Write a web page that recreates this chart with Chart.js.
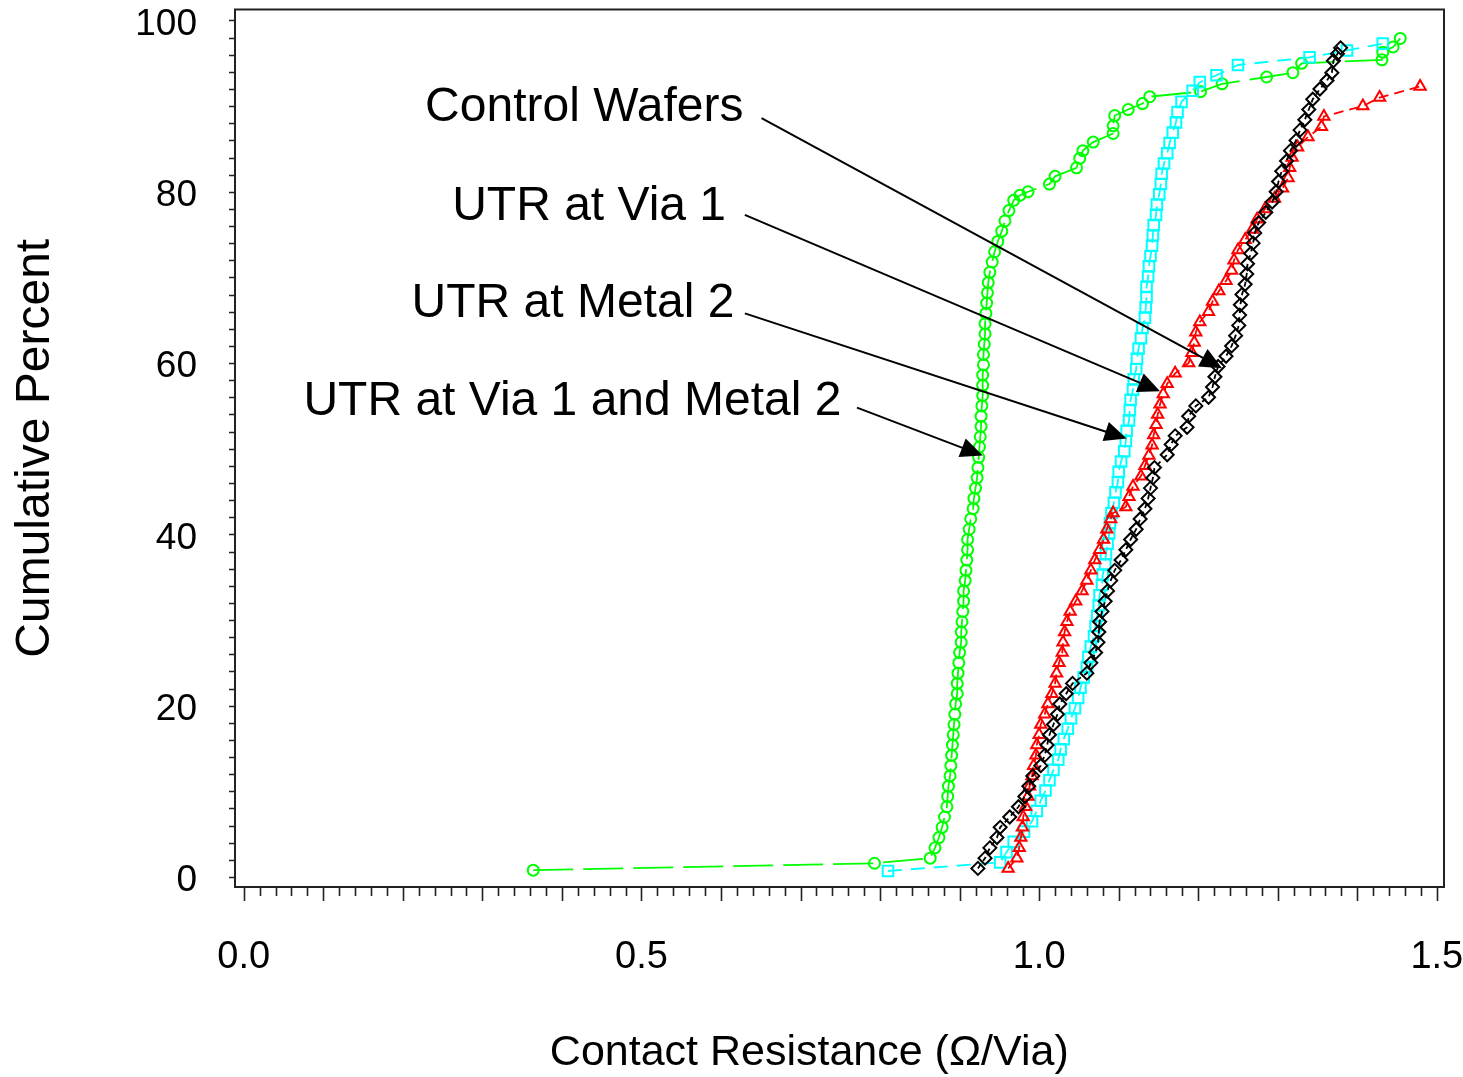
<!DOCTYPE html>
<html>
<head>
<meta charset="utf-8">
<title>Contact Resistance CDF</title>
<script src="https://cdn.jsdelivr.net/npm/chart.js@4.4.1/dist/chart.umd.min.js"></script>
<style>
  html, body { margin: 0; padding: 0; background: #fff; }
  #wrap { width: 1463px; height: 1077px; }
</style>
</head>
<body>
<div id="wrap"><canvas id="cdf" width="1463" height="1077"></canvas></div>
<script>
// Axis ticks
var xTickValues = [0, 0.5, 1.0, 1.5];
var xTickLabels = ['0.0', '0.5', '1.0', '1.5'];
var yTickValues = [0, 20, 40, 60, 80, 100];
var yTickLabels = ['0', '20', '40', '60', '80', '100'];

var xTitle = 'Contact Resistance (Ω/Via)';
var yTitle = 'Cumulative Percent';
var seriesNames = ['Control Wafers', 'UTR at Via 1', 'UTR at Metal 2', 'UTR at Via 1 and Metal 2'];

// Control Wafers (black diamonds): resistance (ohm/via) and cumulative percent
var controlR = [0.923, 0.932, 0.938, 0.947, 0.951, 0.963, 0.974, 0.982, 0.987, 0.992,
  1.002, 1.007, 1.010, 1.013, 1.018, 1.023, 1.026, 1.034, 1.042, 1.060,
  1.065, 1.071, 1.074, 1.075, 1.076, 1.079, 1.083, 1.086, 1.090, 1.095,
  1.103, 1.109, 1.115, 1.122, 1.127, 1.133, 1.137, 1.140, 1.143, 1.145,
  1.161, 1.166, 1.171, 1.186, 1.188, 1.197, 1.213,
  1.218, 1.221, 1.225, 1.235, 1.242, 1.247, 1.251, 1.252, 1.253, 1.255,
  1.259, 1.261, 1.262, 1.266, 1.269, 1.271, 1.276, 1.285, 1.293, 1.298,
  1.301, 1.305, 1.311, 1.316, 1.323, 1.328, 1.334, 1.339, 1.344, 1.353,
  1.362, 1.368, 1.370, 1.375, 1.379];
var controlP = [1.0, 2.2, 3.4, 4.6, 5.8, 7.0, 8.2, 9.4, 10.6, 11.8,
  13.0, 14.2, 15.4, 16.6, 17.8, 19.0, 20.2, 21.4, 22.6, 23.8,
  25.0, 26.2, 27.4, 28.6, 29.8, 31.0, 32.2, 33.4, 34.6, 35.8,
  37.0, 38.2, 39.4, 40.6, 41.8, 43.0, 44.2, 45.4, 46.6, 47.8,
  49.3, 50.5, 51.5, 52.5, 53.8, 55.0, 56.0,
  57.2, 58.4, 59.6, 60.8, 62.0, 63.2, 64.4, 65.6, 66.8, 68.0,
  69.2, 70.4, 71.6, 72.8, 74.0, 75.2, 76.4, 77.6, 78.8, 80.0,
  81.2, 82.4, 83.6, 84.8, 86.0, 87.2, 88.4, 89.6, 90.8, 92.0,
  93.0, 93.9, 95.3, 96.1, 96.8];

// UTR at Via 1 (red triangles)
var via1R = [0.961, 0.972, 0.975, 0.977, 0.979, 0.980, 0.983, 0.986, 0.988, 0.991,
  0.993, 0.996, 0.997, 1.000, 1.002, 1.007, 1.011, 1.016, 1.020, 1.022,
  1.025, 1.029, 1.030, 1.032, 1.035, 1.039, 1.046, 1.054, 1.060, 1.065,
  1.070, 1.076, 1.081, 1.085, 1.090, 1.093, 1.109,
  1.113, 1.118, 1.128, 1.133, 1.138, 1.142, 1.144, 1.147, 1.149, 1.152,
  1.156, 1.161, 1.171, 1.188, 1.192, 1.195, 1.197, 1.202, 1.213, 1.218,
  1.226, 1.235, 1.242, 1.245, 1.250, 1.259, 1.268, 1.274, 1.284, 1.296,
  1.306, 1.313, 1.315, 1.318, 1.325, 1.338, 1.355, 1.358, 1.407, 1.428, 1.479];
var via1P = [1.0, 2.2, 3.4, 4.6, 5.8, 7.0, 8.2, 9.4, 10.6, 11.8,
  13.0, 14.2, 15.4, 16.6, 17.8, 19.0, 20.2, 21.4, 22.6, 23.8,
  25.0, 26.2, 27.4, 28.6, 29.8, 31.0, 32.2, 33.4, 34.6, 35.8,
  37.0, 38.2, 39.4, 40.6, 41.8, 42.5, 43.2,
  44.4, 45.6, 46.8, 48.0, 49.2, 50.4, 51.6, 52.8, 54.0, 55.2,
  56.4, 57.6, 58.8, 60.0, 61.2, 62.4, 63.6, 64.8, 66.0, 67.2,
  68.4, 69.6, 70.8, 72.0, 73.2, 74.4, 75.6, 76.8, 78.0, 79.2,
  80.4, 81.6, 82.8, 84.0, 85.2, 86.4, 87.6, 88.8, 90.0, 91.0, 92.3];

// UTR at Metal 2 (cyan squares)
var metal2R = [0.810, 0.951, 0.959, 0.968, 0.981, 0.991, 0.997, 1.002, 1.008, 1.013, 1.018,
  1.024, 1.027, 1.031, 1.036, 1.040, 1.045, 1.049, 1.052, 1.056, 1.060,
  1.062, 1.065, 1.069, 1.071, 1.073, 1.075, 1.076, 1.079, 1.080, 1.083,
  1.084, 1.086, 1.088, 1.089, 1.091, 1.094, 1.096, 1.099, 1.100, 1.103,
  1.107, 1.109, 1.110, 1.113, 1.114, 1.115, 1.118, 1.119, 1.122, 1.123,
  1.125, 1.128, 1.130, 1.133, 1.134, 1.135, 1.135, 1.137, 1.138, 1.140,
  1.142, 1.143, 1.144, 1.147, 1.148, 1.151, 1.153, 1.154, 1.157, 1.161,
  1.164, 1.168, 1.172, 1.174, 1.179,
  1.193, 1.202, 1.223, 1.250, 1.340, 1.387, 1.432];
var metal2P = [0.7, 1.7, 2.9, 4.1, 5.3, 6.5, 7.7, 8.9, 10.1, 11.3, 12.5,
  13.7, 14.9, 16.1, 17.3, 18.5, 19.7, 20.9, 22.1, 23.3, 24.5,
  25.7, 26.9, 28.1, 29.3, 30.5, 31.7, 32.9, 34.1, 35.3, 36.5,
  37.7, 38.9, 40.1, 41.3, 42.5, 43.7, 44.9, 46.1, 47.3, 48.5,
  49.7, 50.9, 52.1, 53.3, 54.5, 55.7, 56.9, 58.1, 59.3, 60.5,
  61.7, 62.9, 64.1, 65.3, 66.5, 67.7, 68.9, 70.1, 71.3, 72.5,
  73.7, 74.9, 76.1, 77.3, 78.5, 79.7, 80.9, 82.1, 83.3, 84.5,
  85.7, 86.9, 88.1, 89.3, 90.5,
  91.8, 92.8, 93.6, 94.8, 95.7, 96.5, 97.3];

// UTR at Via 1 and Metal 2 (green circles)
var bothR = [0.364, 0.793,
  0.863, 0.869, 0.874, 0.878, 0.881, 0.884, 0.885, 0.886, 0.888, 0.889,
  0.890, 0.891, 0.892, 0.893, 0.894, 0.895, 0.897, 0.897, 0.898, 0.899,
  0.900, 0.902, 0.902, 0.903, 0.904, 0.905, 0.905, 0.907, 0.908, 0.909,
  0.910, 0.910, 0.912, 0.914, 0.917, 0.918, 0.920, 0.922, 0.923, 0.924,
  0.925, 0.926, 0.927, 0.927, 0.928, 0.929, 0.929, 0.929, 0.930, 0.930,
  0.931, 0.932, 0.932, 0.933, 0.934, 0.935, 0.936, 0.938, 0.941, 0.944,
  0.948, 0.953, 0.957, 0.962, 0.968,
  0.976, 0.986, 1.013, 1.020, 1.047, 1.051, 1.055, 1.068, 1.093, 1.093,
  1.095, 1.112, 1.130, 1.139, 1.203, 1.230, 1.286, 1.319, 1.330, 1.431,
  1.432, 1.445, 1.454];
var bothP = [0.8, 1.6,
  2.2, 3.4, 4.6, 5.8, 7.0, 8.2, 9.4, 10.6, 11.8, 13.0,
  14.2, 15.4, 16.6, 17.8, 19.0, 20.2, 21.4, 22.6, 23.8, 25.0,
  26.2, 27.4, 28.6, 29.8, 31.0, 32.2, 33.4, 34.6, 35.8, 37.0,
  38.2, 39.4, 40.6, 41.8, 43.0, 44.2, 45.4, 46.6, 47.8, 49.0,
  50.2, 51.4, 52.6, 53.8, 55.0, 56.2, 57.4, 58.6, 59.8, 61.0,
  62.2, 63.4, 64.6, 65.8, 67.0, 68.2, 69.4, 70.6, 71.8, 73.0,
  74.2, 75.4, 76.6, 77.8, 79.0,
  79.6, 80.0, 80.9, 81.8, 82.8, 83.9, 84.8, 85.8, 86.8, 87.7,
  88.9, 89.6, 90.3, 91.1, 91.7, 92.6, 93.4, 93.9, 95.0, 95.4,
  96.3, 96.9, 97.9];

// Callout text / arrow placement, in axis units (resistance, percent)
var callouts = [
  { text: seriesNames[0], tx: 0.228, ty: 89.8, sx: 0.651, sy: 88.6, ex: 1.230, ey: 59.4 },
  { text: seriesNames[1], tx: 0.262, ty: 78.2, sx: 0.630, sy: 77.3, ex: 1.152, ey: 56.7 },
  { text: seriesNames[2], tx: 0.211, ty: 66.9, sx: 0.630, sy: 65.8, ex: 1.110, ey: 51.2 },
  { text: seriesNames[3], tx: 0.075, ty: 55.5, sx: 0.771, sy: 54.8, ex: 0.929, ey: 49.2 }
];

var FONT = "'Liberation Sans', Arial, Helvetica, sans-serif";
Chart.defaults.font.family = FONT;
Chart.defaults.color = '#000';

function pairs(xs, ys) {
  return xs.map(function (v, i) { return { x: v, y: ys[i] }; });
}

function series(label, xs, ys, color, style, radius, dash) {
  return {
    label: label,
    data: pairs(xs, ys),
    showLine: true,
    borderColor: color,
    borderWidth: 1.8,
    borderDash: dash,
    backgroundColor: 'rgba(0,0,0,0)',
    pointStyle: style,
    pointRadius: radius,
    pointBorderColor: color,
    pointBackgroundColor: 'rgba(0,0,0,0)',
    pointBorderWidth: 2,
    tension: 0
  };
}

// frame, minor tick marks and the x caption
var frameTicks = {
  id: 'frameTicks',
  afterDraw: function (chart) {
    var ctx = chart.ctx, a = chart.chartArea;
    var xs = chart.scales.x, ys = chart.scales.y;
    ctx.save();
    ctx.strokeStyle = '#222';
    ctx.lineWidth = 2;
    ctx.strokeRect(a.left, a.top, a.right - a.left, a.bottom - a.top);
    ctx.lineWidth = 1.6;
    ctx.beginPath();
    for (var i = 0; i <= 75; i++) {
      var px = Math.round(xs.getPixelForValue(i * 0.02)) + 0.5;
      var len = (i % 5 === 0) ? 14 : 9;
      ctx.moveTo(px, a.bottom);
      ctx.lineTo(px, a.bottom + len);
    }
    for (var j = 0; j <= 50; j++) {
      var py = Math.round(ys.getPixelForValue(j * 2)) + 0.5;
      ctx.moveTo(a.left - 6, py);
      ctx.lineTo(a.left, py);
    }
    ctx.stroke();

    // x axis caption sits a little left of the plot centre in the original
    ctx.fillStyle = '#000';
    ctx.font = '43px ' + FONT;
    ctx.textAlign = 'center';
    ctx.textBaseline = 'middle';
    ctx.fillText(xTitle, a.left + (a.right - a.left) * 0.475, chart.height - 24);
    ctx.restore();
  }
};

// callout labels with arrows
var calloutPlugin = {
  id: 'callouts',
  afterDatasetsDraw: function (chart) {
    var ctx = chart.ctx;
    var xs = chart.scales.x, ys = chart.scales.y;
    ctx.save();
    ctx.fillStyle = '#000';
    ctx.strokeStyle = '#000';
    ctx.lineWidth = 2;
    ctx.font = '48px ' + FONT;
    ctx.textAlign = 'left';
    ctx.textBaseline = 'middle';
    callouts.forEach(function (c) {
      ctx.fillText(c.text, xs.getPixelForValue(c.tx), ys.getPixelForValue(c.ty));
      var x1 = xs.getPixelForValue(c.sx), y1 = ys.getPixelForValue(c.sy);
      var x2 = xs.getPixelForValue(c.ex), y2 = ys.getPixelForValue(c.ey);
      var ang = Math.atan2(y2 - y1, x2 - x1);
      var cs = Math.cos(ang), sn = Math.sin(ang);
      ctx.beginPath();
      ctx.moveTo(x1, y1);
      ctx.lineTo(x2 - 16 * cs, y2 - 16 * sn);
      ctx.stroke();
      ctx.beginPath();
      ctx.moveTo(x2, y2);
      ctx.lineTo(x2 - 22 * cs + 10 * sn, y2 - 22 * sn - 10 * cs);
      ctx.lineTo(x2 - 22 * cs - 10 * sn, y2 - 22 * sn + 10 * cs);
      ctx.closePath();
      ctx.fill();
    });
    ctx.restore();
  }
};

var ctx = document.getElementById('cdf').getContext('2d');
var cdfChart = new Chart(ctx, {
  type: 'scatter',
  data: {
    datasets: [
      series(seriesNames[0], controlR, controlP, '#000000', 'rectRot', 6.5, [5, 4]),
      series(seriesNames[1], via1R, via1P, '#ff0000', 'triangle', 6.5, [10, 6]),
      series(seriesNames[2], metal2R, metal2P, '#00ffff', 'rect', 7.5, [14, 9]),
      series(seriesNames[3], bothR, bothP, '#00ff00', 'circle', 5.5, [40, 10])
    ]
  },
  options: {
    responsive: false,
    animation: false,
    layout: { padding: { top: 9, right: 19, left: 0, bottom: 0 } },
    plugins: {
      legend: { display: false },
      tooltip: { enabled: false }
    },
    scales: {
      x: {
        type: 'linear',
        min: -0.011,
        max: 1.509,
        afterBuildTicks: function (s) {
          s.ticks = xTickValues.map(function (v) { return { value: v }; });
        },
        afterFit: function (s) {
          s.height = 190;
          s.paddingLeft = 0;
          s.paddingRight = 0;
        },
        grid: { display: false, drawTicks: false },
        border: { display: false },
        ticks: {
          autoSkip: false,
          maxRotation: 0,
          padding: 48,
          color: '#000',
          font: { size: 38 },
          callback: function (v, i) { return xTickLabels[i]; }
        },
        title: { display: false }
      },
      y: {
        type: 'linear',
        min: -1.17,
        max: 101.28,
        afterBuildTicks: function (s) {
          s.ticks = yTickValues.map(function (v) { return { value: v }; });
        },
        afterFit: function (s) {
          s.width = 235;
          s.paddingTop = 0;
          s.paddingBottom = 0;
        },
        grid: { display: false, drawTicks: false },
        border: { display: false },
        ticks: {
          autoSkip: false,
          padding: 38,
          labelOffset: 4,
          color: '#000',
          font: { size: 37 },
          callback: function (v, i) { return yTickLabels[i]; }
        },
        title: {
          display: true,
          text: yTitle,
          color: '#000',
          font: { size: 48 },
          padding: { top: 7, bottom: 0 }
        }
      }
    }
  },
  plugins: [frameTicks, calloutPlugin]
});
</script>
</body>
</html>
